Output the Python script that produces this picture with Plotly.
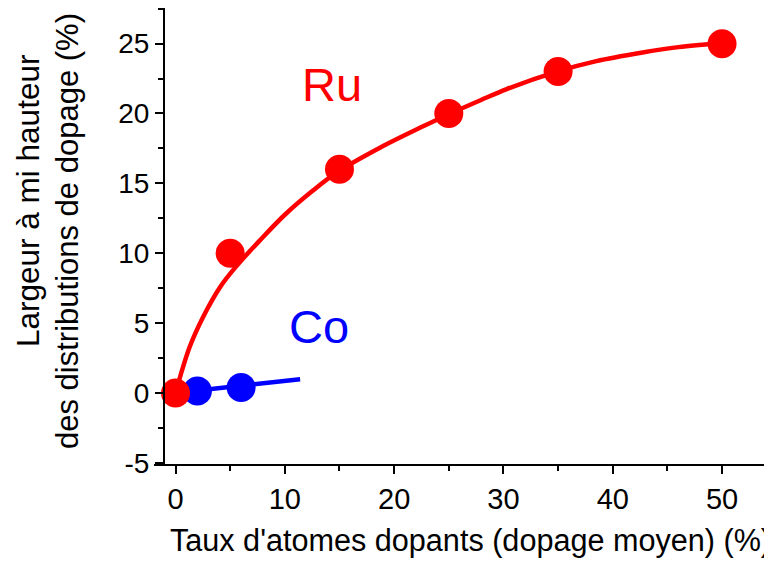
import plotly.graph_objects as go

# Data
ru_x = [0, 5, 15, 25, 35, 50]
ru_y = [0, 10, 16, 20, 23, 25]
ru_fit_x = [0, 1.3, 2.5, 4.1, 5.6, 7.7, 10, 12.6, 14.9, 18.7, 22.7, 25, 27.9, 30.3, 34.9, 38.5, 42.6, 46, 50]
ru_fit_y = [0, 3.3, 5.4, 7.6, 9.1, 10.9, 12.75, 14.5, 15.85, 17.55, 19.1, 19.95, 20.95, 21.75, 23.0, 23.75, 24.35, 24.75, 25.05]
co_x = [2, 6]
co_y = [0.14, 0.38]
co_fit_x = [0, 11.4]
co_fit_y = [0.0, 0.98]
x_tickvals = [0, 10, 20, 30, 40, 50]
x_ticktext = ["0", "10", "20", "30", "40", "50"]
y_tickvals = [-5, 0, 5, 10, 15, 20, 25]
y_ticktext = ["-5", "0", "5", "10", "15", "20", "25"]

RED = "#FF0000"
BLUE = "#0000FF"
FONT = "Arial, Liberation Sans, sans-serif"

# page body has an 8px default margin; lay out in page pixels and shift
OFF = 8
W, H = 772 - OFF, 563 - OFF
L, R, T, B = 154, 772, 8, 464  # plot area in page pixels


def px(xp):
    return (xp - L) / (R - L)


def py(yp):
    return (B - yp) / (B - T)


fig = go.Figure()
fig.add_trace(go.Scatter(x=co_fit_x, y=co_fit_y, mode="lines",
                         line=dict(color=BLUE, width=4.5), showlegend=False))
fig.add_trace(go.Scatter(x=co_x, y=co_y, mode="markers",
                         marker=dict(color=BLUE, size=29, line=dict(width=0)), showlegend=False))
fig.add_trace(go.Scatter(x=ru_fit_x, y=ru_fit_y, mode="lines",
                         line=dict(color=RED, width=4.5, shape="spline", smoothing=1.0), showlegend=False))
fig.add_trace(go.Scatter(x=ru_x, y=ru_y, mode="markers",
                         marker=dict(color=RED, size=29, line=dict(width=0)), showlegend=False))

fig.add_annotation(x=14.3, y=22.1, xref="x", yref="y", text="Ru", showarrow=False,
                   font=dict(family=FONT, size=47, color=RED))
fig.add_annotation(x=13.1, y=4.75, xref="x", yref="y", text="Co", showarrow=False,
                   font=dict(family=FONT, size=47, color=BLUE))

fig.add_annotation(x=px(28), y=py(201), xref="paper", yref="paper",
                   text="Largeur à mi hauteur", textangle=-90, showarrow=False,
                   xanchor="center", yanchor="middle",
                   font=dict(family=FONT, size=31.5, color="black"))
fig.add_annotation(x=px(67), y=py(231), xref="paper", yref="paper",
                   text="des distributions de dopage (%)", textangle=-90, showarrow=False,
                   xanchor="center", yanchor="middle",
                   font=dict(family=FONT, size=31, color="black"))
fig.add_annotation(x=px(470), y=py(540), xref="paper", yref="paper",
                   text="Taux d'atomes dopants (dopage moyen) (%)", showarrow=False,
                   xanchor="center", yanchor="middle",
                   font=dict(family=FONT, size=30.6, color="black"))

fig.update_layout(
    width=W, height=H,
    margin=dict(l=L - OFF, r=(772 - R), t=T - OFF, b=(563 - B), pad=0, autoexpand=False),
    plot_bgcolor="white", paper_bgcolor="white",
    font=dict(family=FONT, color="black"),
    xaxis=dict(range=[-1.97, 54.57], showgrid=False, zeroline=False, automargin=False,
               showline=True, linecolor="black", linewidth=2,
               ticks="outside", ticklen=8, tickwidth=2, tickcolor="black",
               tickmode="array", tickvals=x_tickvals, ticktext=x_ticktext,
               tickfont=dict(family=FONT, size=29, color="black"),
               minor=dict(ticks="outside", ticklen=5, tickwidth=2, tickcolor="black",
                          tickmode="linear", tick0=0, dtick=5, showgrid=False)),
    yaxis=dict(range=[-5.09, 27.55], showgrid=False, zeroline=False, automargin=False,
               anchor="free", position=px(164),
               showline=True, linecolor="black", linewidth=2,
               ticks="outside", ticklen=8, tickwidth=2, tickcolor="black",
               tickmode="array", tickvals=y_tickvals, ticktext=y_ticktext,
               tickfont=dict(family=FONT, size=28, color="black"),
               minor=dict(ticks="outside", ticklen=5, tickwidth=2, tickcolor="black",
                          tickmode="linear", tick0=0, dtick=2.5, showgrid=False)),
)

fig.write_html("out.html")
